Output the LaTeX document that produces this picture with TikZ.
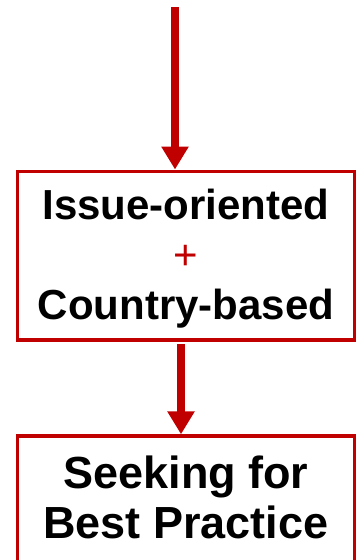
\documentclass[tikz,border=0pt]{standalone}
\usepackage{fontspec}
\setmainfont{Liberation Sans}
\usetikzlibrary{arrows.meta}
\definecolor{dred}{RGB}{192,0,0}
\tikzset{
  box/.style={draw=dred, line width=3.3pt, fill=white, inner sep=0pt,
              minimum width=336.6pt, anchor=north},
  arr/.style={draw=dred, line width=8.3pt, -{Triangle[width=26pt,length=23pt]}},
}
\begin{document}
\begin{tikzpicture}[x=1pt,y=1pt]
\useasboundingbox (0,0) rectangle (358,-560);
\clip (0,0) rectangle (358,-560);
\node[box, text height=48.5pt, text depth=120.3pt] (b1) at (186,-169.5)
  {\fontsize{42}{50}\selectfont\vtop{\halign{\hfil#\hfil\cr
   \bfseries Issue-oriented\cr
   \textcolor{dred}{+}\cr
   \bfseries Country-based\cr}}};
\node[box, text height=53pt, text depth=110pt] (b2) at (186,-434.3)
  {\fontsize{45}{50}\selectfont\vtop{\halign{\hfil#\hfil\cr
   \bfseries Seeking for\cr
   \bfseries Best Practice\cr}}};
\coordinate (s1) at (175,-7);
\coordinate (s2) at (181,-344);
\draw[arr] (s1) -- (s1 |- b1.north);
\draw[arr] (s2) -- (s2 |- b2.north);
\end{tikzpicture}
\end{document}
